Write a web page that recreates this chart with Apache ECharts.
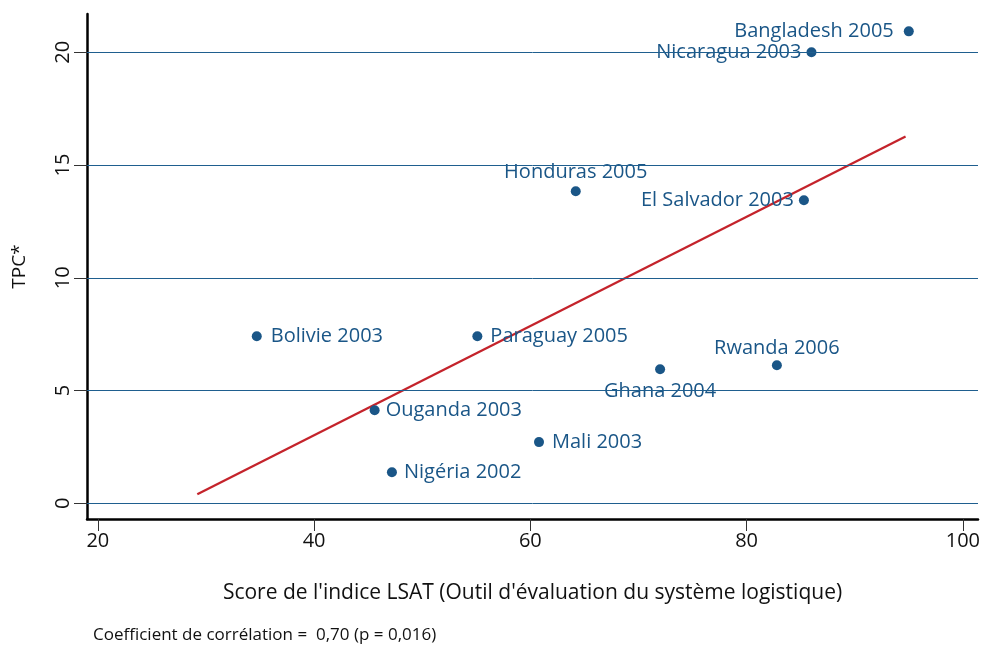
<!DOCTYPE html>
<html>
<head>
<meta charset="utf-8">
<script src="https://cdn.jsdelivr.net/npm/echarts@6/dist/echarts.min.js"></script>
<style>
  html,body{margin:0;padding:0;background:#fff;}
  #main{width:984px;height:651px;}
</style>
</head>
<body>
<div id="main"></div>
<script>
// pays / année
var pays = ['Bangladesh 2005','Nicaragua 2003','Honduras 2005','El Salvador 2003','Bolivie 2003',
            'Paraguay 2005','Ghana 2004','Rwanda 2006','Ouganda 2003','Mali 2003','Nigéria 2002'];
// score LSAT
var scoreLSAT = [95.0, 86.0, 64.2, 85.3, 34.7, 55.1, 72.0, 82.8, 45.6, 60.8, 47.2];
// TPC*
var tpc = [20.93, 20.0, 13.84, 13.44, 7.41, 7.41, 5.94, 6.12, 4.12, 2.71, 1.37];
// droite de régression (extrémités)
var regX = [29.2, 94.7];
var regY = [0.40, 16.27];
var xTicks = [20, 40, 60, 80, 100];
var yTicks = [0, 5, 10, 15, 20];

var bleu = '#1a5687';
var police = '"Open Sans","Noto Sans",sans-serif';

// position des étiquettes
var posEtiquette = {
  'Bangladesh 2005':['left',10],
  'Nicaragua 2003':['left',5],
  'Honduras 2005':['top',4],
  'El Salvador 2003':['left',5],
  'Bolivie 2003':['right',9],
  'Paraguay 2005':['right',8],
  'Ghana 2004':['bottom',7],
  'Rwanda 2006':['top',2],
  'Ouganda 2003':['right',6],
  'Mali 2003':['right',8],
  'Nigéria 2002':['right',7]
};

var points = pays.map(function(p,i){
  return {
    name:p,
    value:[scoreLSAT[i], tpc[i]],
    label:{position:posEtiquette[p][0], distance:posEtiquette[p][1]}
  };
});

var chart = echarts.init(document.getElementById('main'));
chart.setOption({
  animation:false,
  backgroundColor:'#fff',
  grid:{left:87, right:6, top:14, bottom:132, outerBoundsMode:'none', containLabel:false},
  graphic:[{
    type:'text', left:93, top:627,
    style:{text:"Coefficient de corrélation =  0,70 (p = 0,016)", fill:'#111', font:'17px "Open Sans",sans-serif'}
  }],
  xAxis:{
    type:'value', min:19, max:101.4,
    name:"Score de l'indice LSAT (Outil d'évaluation du système logistique)",
    nameLocation:'middle', nameGap:64,
    nameTextStyle:{color:'#111', fontSize:21, fontFamily:police},
    axisLine:{show:true, onZero:false, lineStyle:{color:'#000', width:2.5}},
    axisTick:{show:true, length:12, customValues:xTicks, lineStyle:{color:'#333', width:1}},
    axisLabel:{customValues:xTicks, color:'#111', fontSize:20, margin:12, fontFamily:police},
    splitLine:{show:false}
  },
  yAxis:{
    type:'value', min:-0.7, max:21.7,
    name:'TPC*', nameLocation:'middle', nameGap:58, nameRotate:90,
    nameTextStyle:{color:'#111', fontSize:19, fontFamily:police},
    axisLine:{show:true, onZero:false, lineStyle:{color:'#000', width:2.5}},
    axisTick:{show:true, length:13, customValues:yTicks, lineStyle:{color:'#333', width:1}},
    axisLabel:{customValues:yTicks, rotate:90, color:'#111', fontSize:20, margin:14, fontFamily:police},
    splitLine:{show:false}
  },
  series:[
    {
      // lignes de grille
      type:'line', data:[], silent:true,
      markLine:{
        symbol:'none', silent:true, label:{show:false},
        lineStyle:{color:'#1f5f8f', type:'solid', width:1},
        data:yTicks.map(function(v){return {yAxis:v};})
      }
    },
    {
      type:'line', symbol:'none', silent:true,
      lineStyle:{color:'#c4232b', width:2.3},
      data:regX.map(function(x,i){return [x, regY[i]];}),
      z:3
    },
    {
      type:'scatter', symbolSize:10,
      itemStyle:{color:bleu, opacity:1},
      label:{show:true, formatter:'{b}', color:bleu, fontSize:20, fontFamily:police},
      data:points,
      z:4
    }
  ]
});
</script>
</body>
</html>
